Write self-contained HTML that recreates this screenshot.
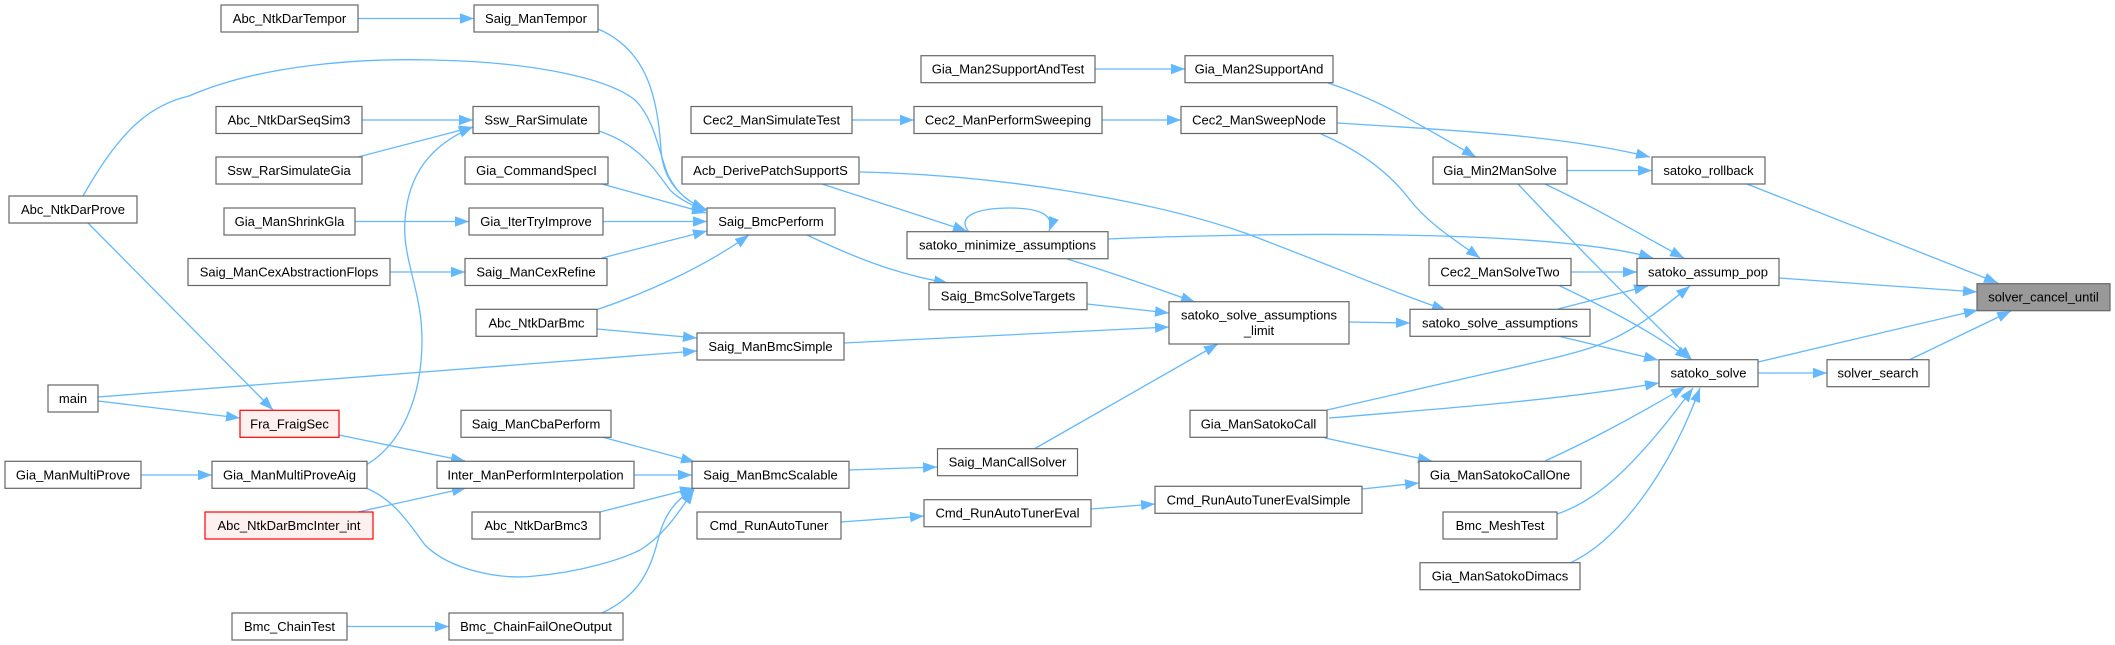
<!DOCTYPE html>
<html><head><meta charset="utf-8"><style>
html,body{margin:0;padding:0;background:#fff;}
svg{display:block;}
text{font-family:"Liberation Sans",Arial,sans-serif;font-size:13px;fill:#000;text-anchor:middle;}
.n{fill:#fff;stroke:#666;stroke-width:1.2;}
.r{fill:#fff0f0;stroke:#ff0000;stroke-width:1.2;}
.g{fill:#999;stroke:#666;stroke-width:1.2;}
.e{fill:none;stroke:#63b8ff;stroke-width:1.3;marker-end:url(#a);}
</style></head><body>
<svg width="2115" height="645" viewBox="0 0 2115 645" xmlns="http://www.w3.org/2000/svg">
<defs><marker id="a" markerUnits="userSpaceOnUse" markerWidth="15" markerHeight="11" refX="14" refY="5.25" orient="auto"><path d="M0,0 L14,5.25 L0,10.5 z" fill="#63b8ff"/></marker></defs>

<!-- edges -->
<path class="e" d="M358,18.5 L474,18.5"/>
<path class="e" d="M598,29 C648,50 658,100 661,150 C663,180 680,198 706,210"/>
<path class="e" d="M83,196 C120,130 150,105 189,96 C260,65 360,58 432,60 C540,62 610,80 635,100 C655,120 658,150 668,175 C678,195 690,203 706,209"/>
<path class="e" d="M362,120 L473,120"/>
<path class="e" d="M358,157 L473,127"/>
<path class="e" d="M366,465 C400,445 422,400 422,340 C422,290 402,260 405,220 C408,175 430,145 473,127"/>
<path class="e" d="M599,131 C640,145 655,170 670,190 C680,200 692,205 706,211"/>
<path class="e" d="M602,184 L706,213"/>
<path class="e" d="M355,221.5 L469,221.5"/>
<path class="e" d="M603,221.5 L707,221.5"/>
<path class="e" d="M390,272 L465,272"/>
<path class="e" d="M602,258 L707,231"/>
<path class="e" d="M596,310 C640,295 700,270 749,235"/>
<path class="e" d="M88,223 L273,410"/>
<path class="e" d="M98,401 L240,418"/>
<path class="e" d="M98,397 L697,351"/>
<path class="e" d="M597,329 L697,338"/>
<path class="e" d="M339,435 L465,461"/>
<path class="e" d="M141,475 L212,475"/>
<path class="e" d="M366,488 C395,500 410,525 425,545 C450,570 500,580 535,576 C580,572 620,560 640,550 C665,535 680,510 694,490"/>
<path class="e" d="M358,512 L466,488"/>
<path class="e" d="M634,475 L692,475"/>
<path class="e" d="M602,437 L695,462"/>
<path class="e" d="M600,512 L694,488"/>
<path class="e" d="M347,626.5 L449,626.5"/>
<path class="e" d="M602,613 C640,595 650,570 658,540 C664,515 675,500 694,489"/>
<path class="e" d="M849,470 L937,467"/>
<path class="e" d="M1034,449 L1218,344"/>
<path class="e" d="M841,522 L924,516"/>
<path class="e" d="M1091,509 L1155,504"/>
<path class="e" d="M1362,489 L1419,483"/>
<path class="e" d="M1327,410 L1410,391 C1500,370 1560,358 1590,348 C1630,335 1660,310 1690,286"/>
<path class="e" d="M1329,418 C1450,408 1560,400 1659,383"/>
<path class="e" d="M1325,438 L1432,461"/>
<path class="e" d="M1545,461 C1580,445 1620,425 1685,387"/>
<path class="e" d="M1557,514 C1600,500 1640,460 1693,388"/>
<path class="e" d="M1570,563 C1620,540 1670,470 1700,388"/>
<path class="e" d="M1758,373 L1827,373"/>
<path class="e" d="M1909,360 L2011,311"/>
<path class="e" d="M1758,362 L1978,310"/>
<path class="e" d="M1779,278 L1977,292"/>
<path class="e" d="M1747,184 L1998,283"/>
<path class="e" d="M1567,170.5 L1652,170.5"/>
<path class="e" d="M1337,123 C1450,130 1560,135 1650,157"/>
<path class="e" d="M1328,83 C1380,100 1420,125 1476,157"/>
<path class="e" d="M1321,134 C1370,155 1395,180 1410,200 C1430,225 1455,240 1480,258"/>
<path class="e" d="M1545,184 C1600,210 1650,240 1684,258"/>
<path class="e" d="M1518,184 C1580,250 1640,310 1692,360"/>
<path class="e" d="M1108,239 C1250,233 1550,228 1653,258"/>
<path class="e" d="M860,172 C1000,175 1150,200 1245,233 C1330,265 1400,295 1446,310"/>
<path class="e" d="M1571,272 L1637,272"/>
<path class="e" d="M1558,285 C1600,305 1650,330 1689,359"/>
<path class="e" d="M1558,309 L1648,286"/>
<path class="e" d="M1558,336 L1658,360"/>
<path class="e" d="M1349,322 L1410,323"/>
<path class="e" d="M969,232 C955,215 980,208 1010,208 C1040,208 1055,215 1049,231"/>
<path class="e" d="M822,184 L967,231"/>
<path class="e" d="M807,235 C860,260 900,275 948,283"/>
<path class="e" d="M1067,259 C1120,275 1160,290 1195,302"/>
<path class="e" d="M1087,304 L1169,313"/>
<path class="e" d="M844,343 L1169,327"/>
<path class="e" d="M1095,69 L1185,69"/>
<path class="e" d="M852,120 L914,120"/>
<path class="e" d="M1102,120 L1181,120"/>

<!-- nodes -->
<rect class="n" x="221" y="5" width="137" height="27"/><text x="289.5" y="23">Abc_NtkDarTempor</text>
<rect class="n" x="474" y="5" width="124" height="27"/><text x="536" y="23">Saig_ManTempor</text>
<rect class="n" x="921" y="55.7" width="174" height="27"/><text x="1008" y="73.7">Gia_Man2SupportAndTest</text>
<rect class="n" x="1185" y="55.7" width="148" height="27"/><text x="1259" y="73.7">Gia_Man2SupportAnd</text>
<rect class="n" x="216" y="106.5" width="146" height="27"/><text x="289" y="124.5">Abc_NtkDarSeqSim3</text>
<rect class="n" x="473" y="106.5" width="126" height="27"/><text x="536" y="124.5">Ssw_RarSimulate</text>
<rect class="n" x="691" y="106.5" width="161" height="27"/><text x="771.5" y="124.5">Cec2_ManSimulateTest</text>
<rect class="n" x="914" y="106.5" width="188" height="27"/><text x="1008" y="124.5">Cec2_ManPerformSweeping</text>
<rect class="n" x="1181" y="106.5" width="156" height="27"/><text x="1259" y="124.5">Cec2_ManSweepNode</text>
<rect class="n" x="216" y="157" width="146" height="27"/><text x="289" y="175">Ssw_RarSimulateGia</text>
<rect class="n" x="465" y="157" width="143" height="27"/><text x="536.5" y="175">Gia_CommandSpecI</text>
<rect class="n" x="682" y="157" width="177" height="27"/><text x="770.5" y="175">Acb_DerivePatchSupportS</text>
<rect class="n" x="1433" y="157" width="134" height="27"/><text x="1500" y="175">Gia_Min2ManSolve</text>
<rect class="n" x="1652" y="157" width="113" height="27"/><text x="1708.5" y="175">satoko_rollback</text>
<rect class="n" x="9" y="196" width="128" height="27"/><text x="73" y="214">Abc_NtkDarProve</text>
<rect class="n" x="224" y="208" width="131" height="27"/><text x="289.5" y="226">Gia_ManShrinkGla</text>
<rect class="n" x="469" y="208" width="134" height="27"/><text x="536" y="226">Gia_IterTryImprove</text>
<rect class="n" x="707" y="208" width="128" height="27"/><text x="771" y="226">Saig_BmcPerform</text>
<rect class="n" x="907" y="231.7" width="201" height="27"/><text x="1007.5" y="249.7">satoko_minimize_assumptions</text>
<rect class="n" x="188" y="258.5" width="202" height="27"/><text x="289" y="276.5">Saig_ManCexAbstractionFlops</text>
<rect class="n" x="465" y="258.5" width="142" height="27"/><text x="536" y="276.5">Saig_ManCexRefine</text>
<rect class="n" x="1429" y="258.5" width="142" height="27"/><text x="1500" y="276.5">Cec2_ManSolveTwo</text>
<rect class="n" x="1637" y="258.5" width="142" height="27"/><text x="1708" y="276.5">satoko_assump_pop</text>
<rect class="n" x="929" y="282.7" width="158" height="27"/><text x="1008" y="300.7">Saig_BmcSolveTargets</text>
<rect class="g" x="1977" y="283.7" width="133" height="27"/><text x="2043.5" y="301.7">solver_cancel_until</text>
<rect class="n" x="1169" y="301.7" width="180" height="42.3"/><text x="1259" y="319.5">satoko_solve_assumptions</text><text x="1259" y="335">_limit</text>
<rect class="n" x="476" y="309.3" width="121" height="27"/><text x="536.5" y="327.3">Abc_NtkDarBmc</text>
<rect class="n" x="1410" y="309.3" width="180" height="27"/><text x="1500" y="327.3">satoko_solve_assumptions</text>
<rect class="n" x="697" y="333" width="147" height="27"/><text x="770.5" y="351">Saig_ManBmcSimple</text>
<rect class="n" x="1659" y="359.7" width="99" height="27"/><text x="1708.5" y="377.7">satoko_solve</text>
<rect class="n" x="1827" y="359.7" width="102" height="27"/><text x="1878" y="377.7">solver_search</text>
<rect class="n" x="48" y="385" width="50" height="27"/><text x="73" y="403">main</text>
<rect class="r" x="240" y="410.3" width="99" height="27"/><text x="289.5" y="428.3">Fra_FraigSec</text>
<rect class="n" x="461" y="410.3" width="150" height="27"/><text x="536" y="428.3">Saig_ManCbaPerform</text>
<rect class="n" x="1190" y="410.3" width="137" height="27"/><text x="1258.5" y="428.3">Gia_ManSatokoCall</text>
<rect class="n" x="937.5" y="448.7" width="140" height="27"/><text x="1007.5" y="466.7">Saig_ManCallSolver</text>
<rect class="n" x="5" y="461.3" width="136" height="27"/><text x="73" y="479.3">Gia_ManMultiProve</text>
<rect class="n" x="212" y="461.3" width="155" height="27"/><text x="289.5" y="479.3">Gia_ManMultiProveAig</text>
<rect class="n" x="437" y="461.3" width="197" height="27"/><text x="535.5" y="479.3">Inter_ManPerformInterpolation</text>
<rect class="n" x="692" y="461.3" width="157" height="27"/><text x="770.5" y="479.3">Saig_ManBmcScalable</text>
<rect class="n" x="1419" y="461.3" width="162" height="27"/><text x="1500" y="479.3">Gia_ManSatokoCallOne</text>
<rect class="n" x="1155" y="486.3" width="207" height="27"/><text x="1258.5" y="504.3">Cmd_RunAutoTunerEvalSimple</text>
<rect class="n" x="924" y="499.7" width="167" height="27"/><text x="1007.5" y="517.7">Cmd_RunAutoTunerEval</text>
<rect class="r" x="205" y="512" width="168" height="27"/><text x="289" y="530">Abc_NtkDarBmcInter_int</text>
<rect class="n" x="472" y="512" width="128" height="27"/><text x="536" y="530">Abc_NtkDarBmc3</text>
<rect class="n" x="697" y="512" width="144" height="27"/><text x="769" y="530">Cmd_RunAutoTuner</text>
<rect class="n" x="1443" y="512" width="114" height="27"/><text x="1500" y="530">Bmc_MeshTest</text>
<rect class="n" x="1420" y="562.7" width="160" height="27"/><text x="1500" y="580.7">Gia_ManSatokoDimacs</text>
<rect class="n" x="232" y="613" width="115" height="27"/><text x="289.5" y="631">Bmc_ChainTest</text>
<rect class="n" x="449" y="613" width="174" height="27"/><text x="536" y="631">Bmc_ChainFailOneOutput</text>
</svg>
</body></html>
